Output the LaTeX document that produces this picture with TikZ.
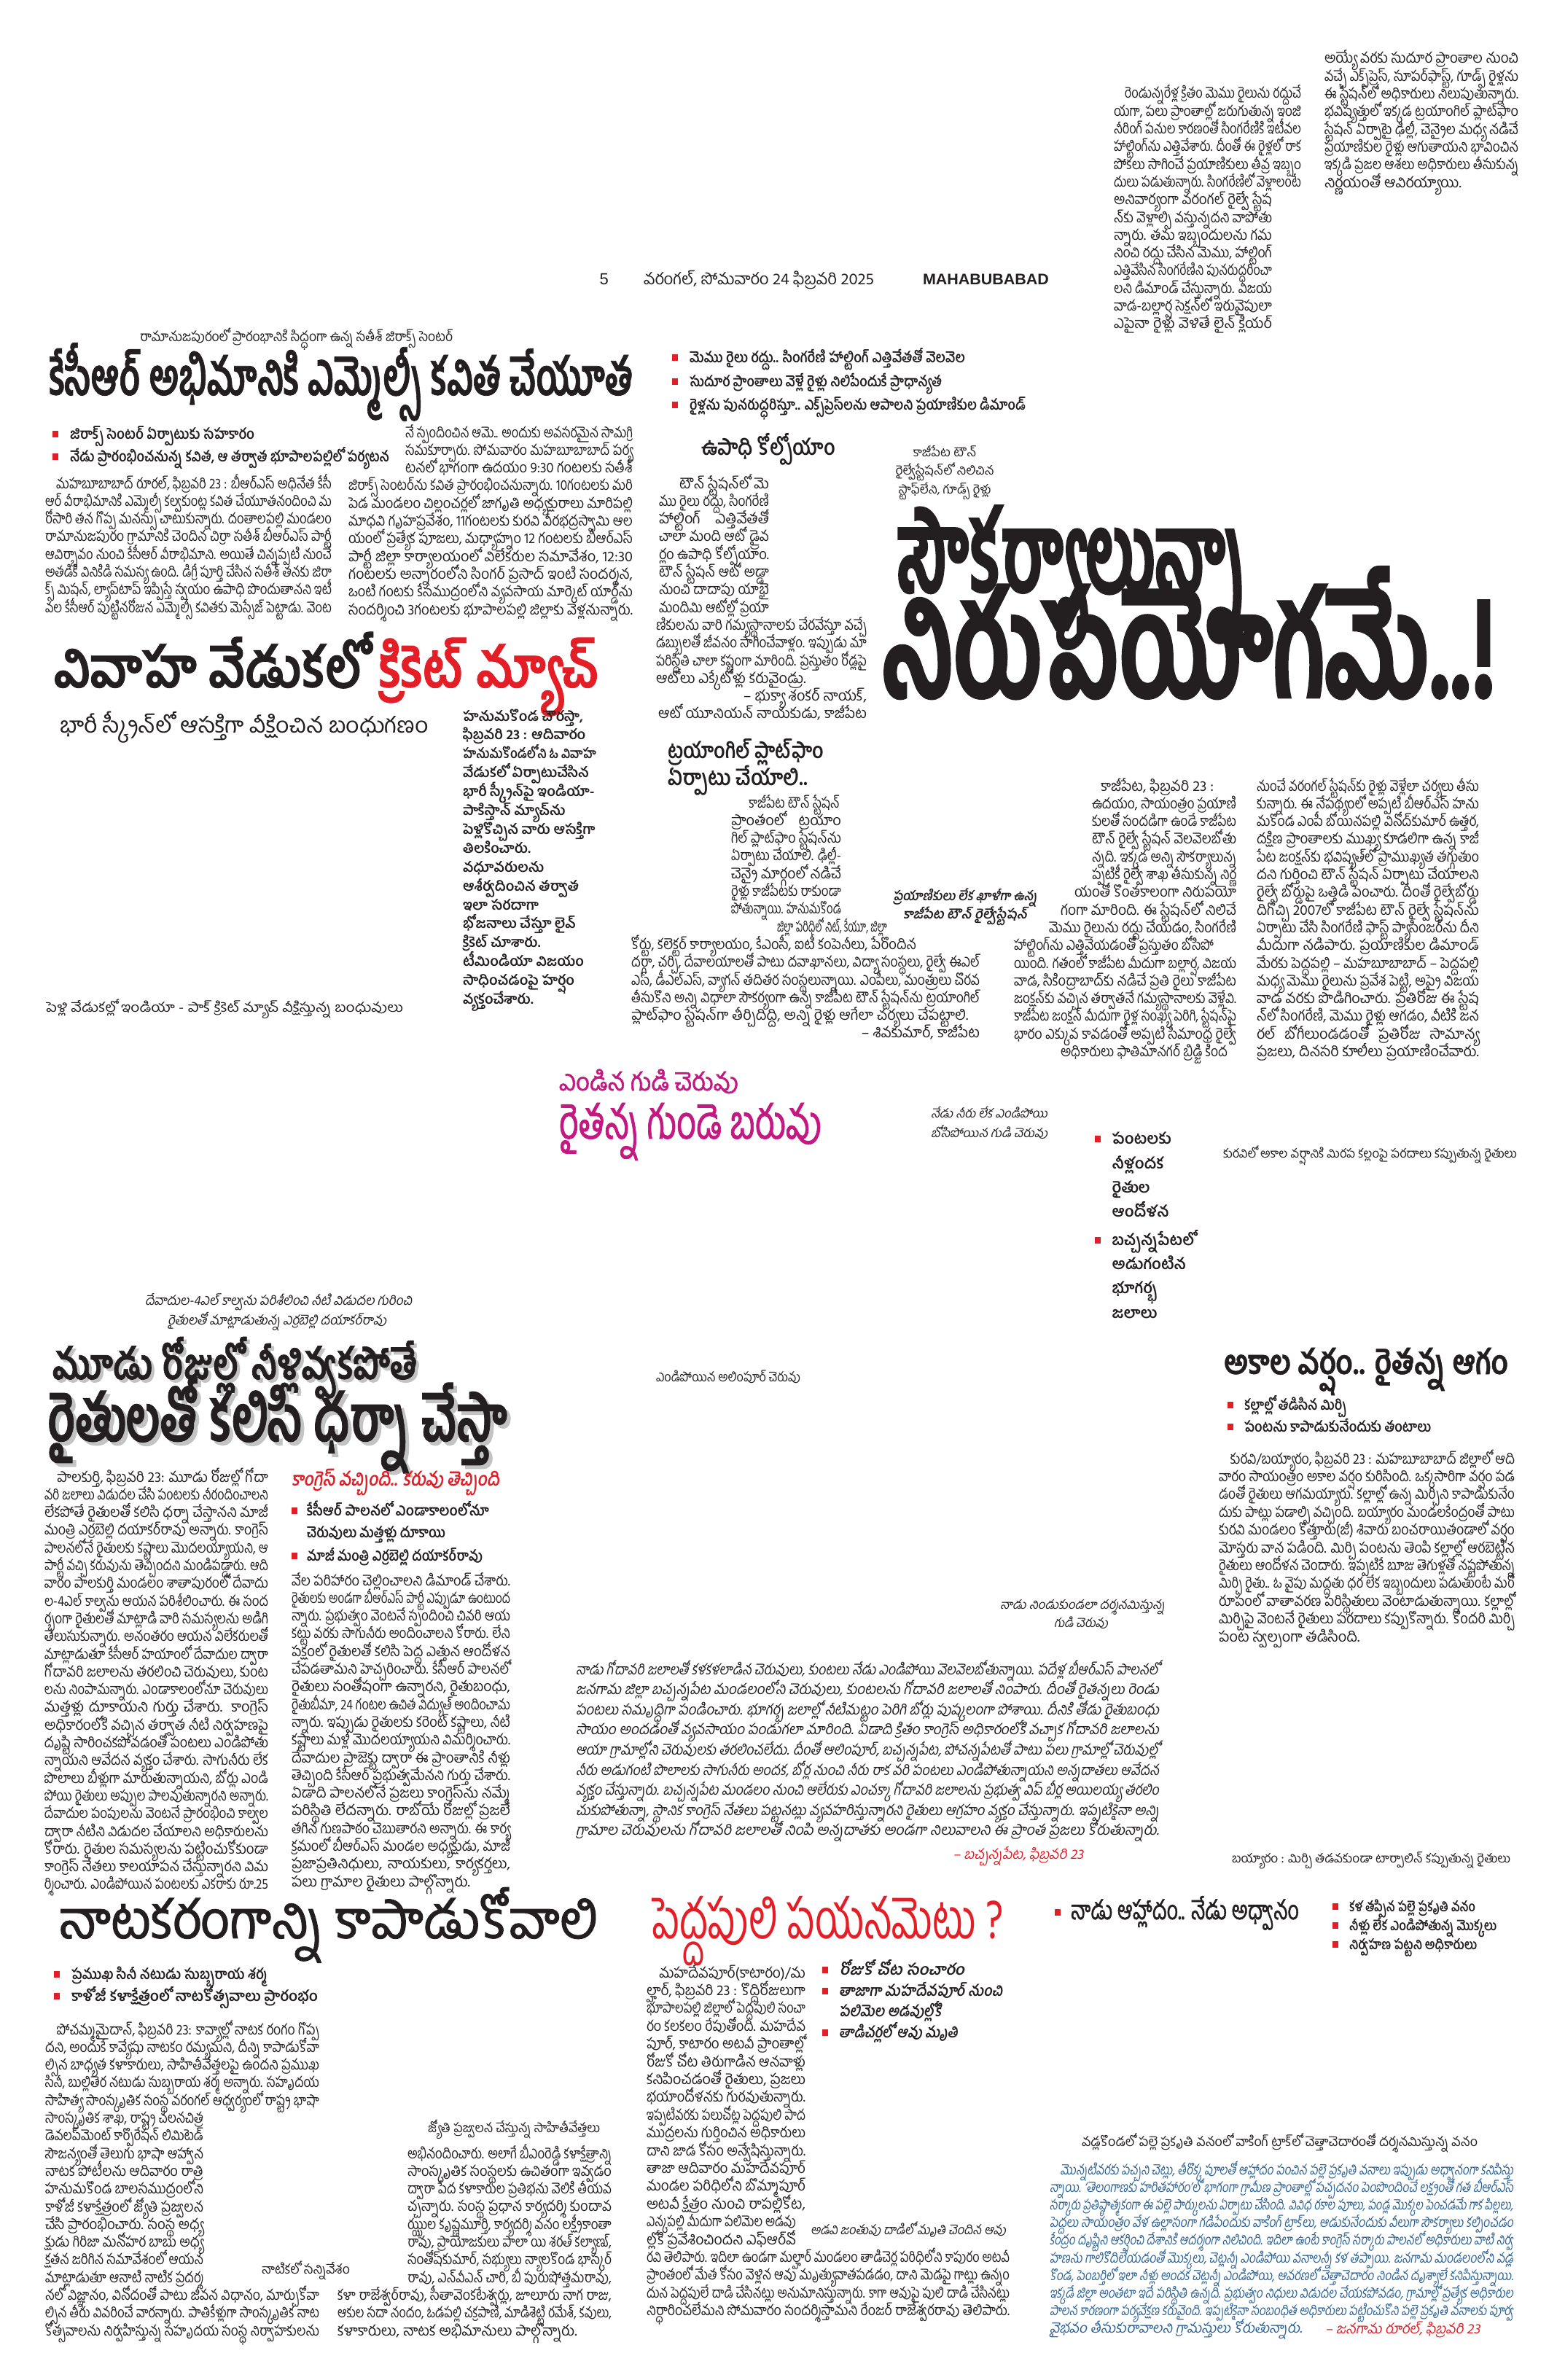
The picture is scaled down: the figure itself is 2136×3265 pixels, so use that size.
\documentclass[tikz,border=0pt]{standalone}
\usepackage{fontspec}
\usepackage{graphicx}
\newfontfamily\te[Script=Telugu]{Hind Guntur}
\newfontfamily\tei[Script=Telugu,FakeSlant=0.2]{Hind Guntur}
\newfontfamily\tem[Script=Telugu,FakeBold=1.5]{Hind Guntur}
\newfontfamily\teh[Script=Telugu,FakeBold=1.2]{Hind Guntur}
\newfontfamily\tebk[Script=Telugu,FakeBold=2.5]{Hind Guntur}
\newfontfamily\tebi[Script=Telugu,FakeSlant=0.2]{Hind Guntur}
\newfontfamily\lat{Liberation Sans}
\definecolor{txt}{RGB}{35,31,32}
\definecolor{nred}{RGB}{228,30,38}
\definecolor{npink}{RGB}{196,24,130}
\definecolor{nblue}{RGB}{44,98,148}
\definecolor{ngray}{RGB}{195,195,195}
\newdimen\pxu \pxu=0.3pt
\newsavebox\lbox
\newcommand\fsz[1]{\fontsize{#1\pxu}{#1\pxu}\selectfont}
\newcommand\fitto[2]{\sbox\lbox{#2}\ifdim\wd\lbox>#1\relax\resizebox{#1}{\height}{\usebox\lbox}\else\hbox to #1{#2}\fi}
\newcommand\fitmax[2]{\sbox\lbox{#2}\ifdim\wd\lbox>#1\relax\resizebox{#1}{\height}{\usebox\lbox}\else\usebox\lbox\fi}
\newcommand\fitx[2]{\resizebox{#1\pxu}{\height}{#2}}
\newcommand\tlj[1]{\hbox{\fitto{\hsize}{#1}}}
\newcommand\tle[1]{\hbox{\fitmax{\hsize}{#1}}}
\newcommand\tlr[1]{\hbox to\hsize{\hfil\fitmax{\hsize}{#1}}}
\newcommand\tlw[3]{\hbox to\hsize{\hskip#1\pxu\fitto{#2\pxu}{#3}\hss}}
\newcommand\tlwe[3]{\hbox to\hsize{\hskip#1\pxu\fitmax{#2\pxu}{#3}\hss}}
\newcommand\tind{\hskip18\pxu}
\newcommand\tcol[6][\te\fsz{20}]{\node[anchor=base west,inner sep=0pt,outer sep=0pt,text=txt] at (#2,#3) {#1\vtop{\hsize=#4\pxu\baselineskip=#5\pxu\lineskiplimit=-\maxdimen\lineskip=0pt\relax #6}};}
\newcommand\hln[5][\te\fsz{20}]{\node[anchor=base west,inner sep=0pt,outer sep=0pt,text=txt] at (#2,#3) {#1\fitx{#4}{#5}};}
\newcommand\bsq[2]{\fill[nred] (#1,#2-5) rectangle ++(8,9);}
\begin{document}
\begin{tikzpicture}[x=0.3pt,y=-0.3pt]
\useasboundingbox (0,0) rectangle (2136,3265);
\fill[white] (0,0) rectangle (2136,3265);

% ---------- header ----------
\node[anchor=base west,inner sep=0pt,text=txt] at (822,390) {\lat\fsz{22}5};
\hln[\te\fsz{22}]{883}{390}{316}{వరంగల్, సోమవారం 24 ఫిబ్రవరి 2025}
\hln[\lat\bfseries\fsz{21}]{1266}{390}{173}{MAHABUBABAD}

% ---------- top right columns ----------
\tcol{1528}{135}{257}{24.3}{%
\tlj{\tind రెండున్నరేళ్ల క్రితం మెము రైలును రద్దుచే}
\tlj{యగా, పలు ప్రాంతాల్లో జరుగుతున్న ఇంజి}
\tlj{నీరింగ్ పనుల కారణంతో సింగరేణికి ఇటీవల}
\tlj{హాల్టింగ్‌ను ఎత్తివేశారు. దీంతో ఈ రైళ్లలో రాక}
\tlj{పోకలు సాగించే ప్రయాణికులు తీవ్ర ఇబ్బం}
\tlj{దులు పడుతున్నారు. సింగరేణిలో వెళ్లాలంటే}
\tlw{0}{217}{అనివార్యంగా వరంగల్ రైల్వే స్టేష}
\tlw{0}{217}{న్‌కు వెళ్లాల్సి వస్తున్నదని వాపోతు}
\tlw{0}{217}{న్నారు. తమ ఇబ్బందులను గమ}
\tlw{0}{217}{నించి రద్దు చేసిన మెము, హాల్టింగ్}
\tlw{0}{217}{ఎత్తివేసిన సింగరేణిని పునరుద్ధరించా}
\tlw{0}{217}{లని డిమాండ్ చేస్తున్నారు. విజయ}
\tlw{0}{217}{వాడ-బల్లార్ష సెక్షన్‌లో ఇరువైపులా}
\tlw{0}{217}{ఎపైనా రైళ్లు వెళితే లైన్ క్లియర్}}
\tcol{1817}{87}{266}{24.3}{%
\tlj{అయ్యే వరకు సుదూర ప్రాంతాల నుంచి}
\tlj{వచ్చే ఎక్స్‌ప్రెస్, సూపర్‌ఫాస్ట్, గూడ్స్ రైళ్లను}
\tlj{ఈ స్టేషన్‌లో అధికారులు నిలుపుతున్నారు.}
\tlj{భవిష్యత్తులో ఇక్కడ ట్రయాంగిల్ ప్లాట్‌ఫాం}
\tlj{స్టేషన్ ఏర్పాటై ఢిల్లీ, చెన్నైల మధ్య నడిచే}
\tlj{ప్రయాణికుల రైళ్లు ఆగుతాయని భావించిన}
\tlj{ఇక్కడి ప్రజల ఆశలు అధికారులు తీసుకున్న}
\tle{నిర్ణయంతో ఆవిరయ్యాయి.}}

% ---------- KCR story ----------
\hln[\te\fsz{19}]{192}{468}{429}{రామానుజపురంలో ప్రారంభానికి సిద్ధంగా ఉన్న సతీశ్ జిరాక్స్ సెంటర్}
\hln[\teh\bfseries\fsz{70}]{68}{542}{800}{కేసీఆర్ అభిమానికి ఎమ్మెల్సీ కవిత చేయూత}
\bsq{72}{596}
\hln[\te\bfseries\fsz{20}]{96}{602}{253}{జిరాక్స్ సెంటర్ ఏర్పాటుకు సహకారం}
\bsq{72}{627}
\hln[\te\bfseries\fsz{20}]{96}{633}{438}{నేడు ప్రారంభించనున్న కవిత, ఆ తర్వాత భూపాలపల్లిలో పర్యటన}
\tcol{62}{670}{393}{24.3}{%
\tlj{\tind మహబూబాబాద్ రూరల్, ఫిబ్రవరి 23 : బీఆర్ఎస్ అధినేత కేసీ}
\tlj{ఆర్ వీరాభిమానికి ఎమ్మెల్సీ కల్వకుంట్ల కవిత చేయూతనందించి మ}
\tlj{రోసారి తన గొప్ప మనస్సు చాటుకున్నారు. దంతాలపల్లి మండలం}
\tlj{రామానుజపురం గ్రామానికి చెందిన చిర్రా సతీశ్ బీఆర్ఎస్ పార్టీ}
\tlj{ఆవిర్భావం నుంచి కేసీఆర్ వీరాభిమాని. అయితే చిన్నప్పటి నుంచే}
\tlj{అతడికి వినికిడి సమస్య ఉంది. డిగ్రీ పూర్తి చేసిన సతీశ్ తనకు జిరా}
\tlj{క్స్ మిషన్, ల్యాప్‌టాప్ ఇప్పిస్తే స్వయం ఉపాధి పొందుతానని ఇటీ}
\tlj{వల కేసీఆర్ పుట్టినరోజున ఎమ్మెల్సీ కవితకు మెస్సేజ్ పెట్టాడు. వెంట}}
\tcol{478}{600}{390}{24.3}{%
\tlw{78}{312}{నే స్పందించిన ఆమె.. అందుకు అవసరమైన సామగ్రి}
\tlw{78}{312}{సమకూర్చారు. సోమవారం మహబూబాబాద్ పర్య}
\tlw{78}{312}{టనలో భాగంగా ఉదయం 9:30 గంటలకు సతీశ్}
\tlj{జిరాక్స్ సెంటర్‌ను కవిత ప్రారంభించనున్నారు. 10గంటలకు మరి}
\tlj{పెడ మండలం చిల్లంచర్లలో జాగృతి అధ్యక్షురాలు మారిపల్లి}
\tlj{మాధవి గృహప్రవేశం, 11గంటలకు కురవి వీరభద్రస్వామి ఆల}
\tlj{యంలో ప్రత్యేక పూజలు, మధ్యాహ్నం 12 గంటలకు బీఆర్ఎస్}
\tlj{పార్టీ జిల్లా కార్యాలయంలో విలేకరుల సమావేశం, 12:30}
\tlj{గంటలకు అన్నారంలోని సింగర్ ప్రసాద్ ఇంటి సందర్శన,}
\tlj{ఒంటి గంటకు కేసముద్రంలోని వ్యవసాయ మార్కెట్ యార్డ్‌ను}
\tle{సందర్శించి 3గంటలకు భూపాలపల్లి జిల్లాకు వెళ్లనున్నారు.}}

% ---------- Kazipet story ----------
\bsq{922}{491}
\hln[\te\bfseries\fsz{20}]{946}{497}{378}{మెము రైలు రద్దు.. సింగరేణి హాల్టింగ్ ఎత్తివేతతో వెలవెల}
\bsq{922}{524}
\hln[\te\bfseries\fsz{20}]{946}{530}{346}{సుదూర ప్రాంతాలు వెళ్లే రైళ్లు నిలిపేందుకే ప్రాధాన్యత}
\bsq{922}{556}
\hln[\te\bfseries\fsz{20}]{946}{562}{461}{రైళ్లను పునరుద్ధరిస్తూ.. ఎక్స్‌ప్రెస్‌లను ఆపాలని ప్రయాణికుల డిమాండ్}
\hln[\te\bfseries\fsz{30}]{962}{624}{184}{ఉపాధి కోల్పోయాం}
\node[anchor=base,inner sep=0pt,text=txt] at (1296,626) {\te\fsz{17}\fitx{87}{కాజీపేట టౌన్}};
\node[anchor=base,inner sep=0pt,text=txt] at (1296,651) {\te\fsz{17}\fitx{135}{రైల్వేస్టేషన్‌లో నిలిచిన}};
\node[anchor=base,inner sep=0pt,text=txt] at (1296,677) {\te\fsz{17}\fitx{127}{స్టాఫ్‌లేని, గూడ్స్ రైళ్లు}};
\tcol{900}{670}{289}{24.3}{%
\tlw{32}{123}{టౌన్ స్టేషన్‌లో మె}
\tlw{4}{151}{ము రైలు రద్దు, సింగరేణి}
\tlw{4}{151}{హాల్టింగ్ ఎత్తివేతతో}
\tlw{4}{151}{చాలా మంది ఆటో డ్రైవ}
\tlw{4}{151}{ర్లం ఉపాధి కోల్పోయాం.}
\tlw{4}{151}{టౌన్ స్టేషన్ ఆటో అడ్డా}
\tlw{4}{151}{నుంచి దాదాపు యాభై}
\tlw{4}{151}{మందిమి ఆటోల్లో ప్రయా}
\tlj{ణికులను వారి గమ్యస్థానాలకు చేరవేస్తూ వచ్చే}
\tlj{డబ్బులతో జీవనం సాగించేవాళ్లం. ఇప్పుడు మా}
\tlj{పరిస్థితి చాలా కష్టంగా మారింది. ప్రస్తుతం రోడ్లపై}
\tle{ఆటోలు ఎక్కేటోళ్లు కరువైండ్రు.}
\tlr{– భుక్యా శంకర్ నాయక్,}
\tlr{ఆటో యూనియన్ నాయకుడు, కాజీపేట}}
\hln[\tebk\bfseries\fsz{150}]{1233}{812}{479}{సౌకర్యాలున్నా}
\hln[\tebk\bfseries\fsz{195}]{1209}{956}{844}{నిరుపయోగమే..!}
\hln[\te\bfseries\fsz{30}]{916}{1040}{214}{ట్రయాంగిల్ ప్లాట్‌ఫాం}
\hln[\te\bfseries\fsz{30}]{916}{1077}{192}{ఏర్పాటు చేయాలి..}
\tcol{866}{1108}{478}{24.3}{%
\tlw{161}{125}{కాజీపేట టౌన్ స్టేషన్}
\tlw{137}{151}{ప్రాంతంలో ట్రయాం}
\tlw{137}{151}{గిల్ ప్లాట్‌ఫాం స్టేషన్‌ను}
\tlw{137}{151}{ఏర్పాటు చేయాలి. ఢిల్లీ-}
\tlw{137}{151}{చెన్నై మార్గంలో నడిచే}
\tlw{137}{151}{రైళ్లు కాజీపేటకు రాకుండా}
\tlw{137}{151}{పోతున్నాయి. హనుమకొండ}
\tlw{200}{151}{జిల్లా పరిధిలో నిట్, కేయూ, జిల్లా}
\tlw{0}{391}{కోర్టు, కలెక్టర్ కార్యాలయం, కేఎంసీ, ఐటీ కంపెనీలు, పేరొందిన}
\tlj{దర్గా, చర్చి, దేవాలయాలతో పాటు దవాఖానలు, విద్యా సంస్థలు, రైల్వే ఈఎల్}
\tlj{ఎస్, డీఎల్ఎస్, వ్యాగన్ తదితర సంస్థలున్నాయి. ఎంపీలు, మంత్రులు చొరవ}
\tlj{తీసుకొని అన్ని విధాలా సౌకర్యంగా ఉన్న కాజీపేట టౌన్ స్టేషన్‌ను ట్రయాంగిల్}
\tle{ప్లాట్‌ఫాం స్టేషన్‌గా తీర్చిదిద్ది, అన్ని రైళ్లు ఆగేలా చర్యలు చేపట్టాలి.}
\tlr{– శివకుమార్, కాజీపేట}}
\node[anchor=base,inner sep=0pt,text=txt] at (1324,1235) {\tebi\bfseries\fsz{18}\fitx{198}{ప్రయాణికులు లేక ఖాళీగా ఉన్న}};
\node[anchor=base,inner sep=0pt,text=txt] at (1324,1260) {\tebi\bfseries\fsz{18}\fitx{170}{కాజీపేట టౌన్ రైల్వేస్టేషన్}};
\tcol{1391}{1085}{305}{24.3}{%
\tlwe{119}{186}{కాజీపేట, ఫిబ్రవరి 23 :}
\tlw{107}{198}{ఉదయం, సాయంత్రం ప్రయాణి}
\tlw{107}{198}{కులతో సందడిగా ఉండే కాజీపేట}
\tlw{107}{198}{టౌన్ రైల్వే స్టేషన్ వెలవెలబోతు}
\tlw{107}{198}{న్నది. ఇక్కడ అన్ని సౌకర్యాలున్న}
\tlw{107}{198}{ప్పటికీ రైల్వే శాఖ తీసుకున్న నిర్ణ}
\tlw{83}{222}{యంతో కొంతకాలంగా నిరుపయో}
\tlw{64}{241}{గంగా మారింది. ఈ స్టేషన్‌లో నిలిచే}
\tlw{48}{257}{మెము రైలును రద్దు చేయడం, సింగరేణి}
\tlw{0}{274}{హాల్టింగ్‌ను ఎత్తివేయడంతో ప్రస్తుతం బోసిపో}
\tlj{యింది. గతంలో కాజీపేట మీదుగా బల్లార్ష, విజయ}
\tlj{వాడ, సికింద్రాబాద్‌కు నడిచే ప్రతి రైలు కాజీపేట}
\tlj{జంక్షన్‌కు వచ్చిన తర్వాతనే గమ్యస్థానాలకు వెళ్లేవి.}
\tlj{కాజీపేట జంక్షన్ మీదుగా రైళ్ల సంఖ్య పెరిగి, స్టేషన్‌పై}
\tlj{భారం ఎక్కువ కావడంతో అప్పటి సీమాంధ్ర రైల్వే}
\tlw{64}{229}{అధికారులు ఫాతిమానగర్ బ్రిడ్జి కింద}}
\tcol{1724}{1085}{305}{24.3}{%
\tlj{నుంచే వరంగల్ స్టేషన్‌కు రైళ్లు వెళ్లేలా చర్యలు తీసు}
\tlj{కున్నారు. ఈ నేపథ్యంలో అప్పటి బీఆర్ఎస్ హను}
\tlj{మకొండ ఎంపీ బోయినపల్లి వినోద్‌కుమార్ ఉత్తర,}
\tlj{దక్షిణ ప్రాంతాలకు ముఖ్య కూడలిగా ఉన్న కాజీ}
\tlj{పేట జంక్షన్‌కు భవిష్యత్‌లో ప్రాముఖ్యత తగ్గుతుం}
\tlj{దని గుర్తించి టౌన్ స్టేషన్ ఏర్పాటు చేయాలని}
\tlj{రైల్వే బోర్డుపై ఒత్తిడి పెంచారు. దీంతో రైల్వేబోర్డు}
\tlj{దిగొచ్చి 2007లో కాజీపేట టౌన్ రైల్వే స్టేషన్‌ను}
\tlj{ఏర్పాటు చేసి సింగరేణి ఫాస్ట్ ప్యాసింజర్‌ను దీని}
\tlj{మీదుగా నడిపారు. ప్రయాణికుల డిమాండ్}
\tlj{మేరకు పెద్దపల్లి – మహబూబాబాద్ – పెద్దపల్లి}
\tlj{మధ్య మెము రైలును ప్రవేశ పెట్టి, అప్పై విజయ}
\tlj{వాడ వరకు పొడిగించారు. ప్రతిరోజు ఈ స్టేష}
\tlj{న్‌లో సింగరేణి, మెము రైళ్లు ఆగడం, వీటికి జన}
\tlj{రల్ బోగీలుండడంతో ప్రతిరోజు సామాన్య}
\tle{ప్రజలు, దినసరి కూలీలు ప్రయాణించేవారు.}}

% ---------- cricket ----------
\hln[\teh\bfseries\fsz{76}]{74}{943}{747}{వివాహ వేడుకలో \textcolor{nred}{క్రికెట్ మ్యాచ్}}
\hln[\te\fsz{30}]{82}{1005}{506}{భారీ స్క్రీన్‌లో ఆసక్తిగా వీక్షించిన బంధుగణం}
\tcol[\te\bfseries\fsz{19}]{635}{989}{183}{25.9}{%
\tle{హనుమకొండ చౌరస్తా,}
\tle{ఫిబ్రవరి 23 : ఆదివారం}
\tle{హనుమకొండలోని ఓ వివాహ}
\tle{వేడుకలో ఏర్పాటుచేసిన}
\tle{భారీ స్క్రీన్‌పై ఇండియా-}
\tle{పాకిస్తాన్ మ్యాచ్‌ను}
\tle{పెళ్లికొచ్చిన వారు ఆసక్తిగా}
\tle{తిలకించారు.}
\tle{వధూవరులను}
\tle{ఆశీర్వదించిన తర్వాత}
\tle{ఇలా సరదాగా}
\tle{భోజనాలు చేస్తూ లైవ్}
\tle{క్రికెట్ చూశారు.}
\tle{టీమిండియా విజయం}
\tle{సాధించడంపై హర్షం}
\tle{వ్యక్తంచేశారు.}}
\hln[\te\fsz{18}]{63}{1388}{490}{పెళ్లి వేడుకల్లో ఇండియా - పాక్ క్రికెట్ మ్యాచ్ వీక్షిస్తున్న బంధువులు}

% ---------- pink story ----------
\hln[\tem\fsz{34}\color{npink}]{767}{1496}{246}{ఎండిన గుడి చెరువు}
\hln[\tem\fsz{64}\color{npink}]{767}{1562}{360}{రైతన్న గుండె బరువు}
\hln[\tei\fsz{17}]{1277}{1533}{160}{నేడు నీరు లేక ఎండిపోయి}
\hln[\tei\fsz{17}]{1277}{1560}{160}{బోసిపోయిన గుడి చెరువు}
\bsq{1502}{1563}
\node[anchor=base west,inner sep=0pt,text=txt] at (1525,1569) {\te\bfseries\fsz{21}పంటలకు};
\node[anchor=base west,inner sep=0pt,text=txt] at (1525,1603) {\te\bfseries\fsz{21}నీళ్లందక};
\node[anchor=base west,inner sep=0pt,text=txt] at (1525,1636) {\te\bfseries\fsz{21}రైతుల};
\node[anchor=base west,inner sep=0pt,text=txt] at (1525,1669) {\te\bfseries\fsz{21}ఆందోళన};
\bsq{1502}{1702}
\node[anchor=base west,inner sep=0pt,text=txt] at (1525,1708) {\te\bfseries\fsz{21}బచ్చన్నపేటలో};
\node[anchor=base west,inner sep=0pt,text=txt] at (1525,1741) {\te\bfseries\fsz{21}అడుగంటిన};
\node[anchor=base west,inner sep=0pt,text=txt] at (1525,1774) {\te\bfseries\fsz{21}భూగర్భ};
\node[anchor=base west,inner sep=0pt,text=txt] at (1525,1808) {\te\bfseries\fsz{21}జలాలు};
\hln[\te\fsz{17}]{1678}{1588}{403}{కురవిలో అకాల వర్షానికి మిరప కల్లంపై పరదాలు కప్పుతున్న రైతులు}

% ---------- Palakurthi story ----------
\hln[\tei\fsz{18}]{199}{1790}{366}{దేవాదుల-4ఎల్ కాల్వను పరిశీలించి నీటి విడుదల గురించి}
\hln[\tei\fsz{18}]{230}{1817}{300}{రైతులతో మాట్లాడుతున్న ఎర్రబెల్లి దయాకర్‌రావు}
\hln[\teh\bfseries\fsz{58}\color{ngray}]{76}{1896}{500}{మూడు రోజుల్లో నీళ్లివ్వకపోతే}
\hln[\teh\bfseries\fsz{58}]{72}{1892}{500}{మూడు రోజుల్లో నీళ్లివ్వకపోతే}
\hln[\teh\bfseries\fsz{88}\color{ngray}]{70}{1982}{631}{రైతులతో కలిసి ధర్నా చేస్తా}
\hln[\teh\bfseries\fsz{88}]{65}{1977}{631}{రైతులతో కలిసి ధర్నా చేస్తా}
\hln[\te\fsz{18}]{900}{1895}{198}{ఎండిపోయిన అలింపూర్ చెరువు}
\hln[\tebi\bfseries\fsz{26}\color{nred}]{400}{2038}{285}{కాంగ్రెస్ వచ్చింది.. కరువు తెచ్చింది}
\bsq{400}{2073}
\hln[\te\bfseries\fsz{20}]{421}{2079}{250}{కేసీఆర్ పాలనలో ఎండాకాలంలోనూ}
\hln[\te\bfseries\fsz{20}]{421}{2109}{190}{చెరువులు మత్తళ్లు దూకాయి}
\bsq{400}{2135}
\hln[\te\bfseries\fsz{20}]{421}{2141}{241}{మాజీ మంత్రి ఎర్రబెల్లి దయాకర్‌రావు}
\tcol{61}{2033}{307}{24.3}{%
\tlj{\tind పాలకుర్తి, ఫిబ్రవరి 23: మూడు రోజుల్లో గోదా}
\tlj{వరి జలాలు విడుదల చేసి పంటలకు నీరందించాలని}
\tlj{లేకపోతే రైతులతో కలిసి ధర్నా చేస్తానని మాజీ}
\tlj{మంత్రి ఎర్రబెల్లి దయాకర్‌రావు అన్నారు. కాంగ్రెస్}
\tlj{పాలనలోనే రైతులకు కష్టాలు మొదలయ్యాయని, ఆ}
\tlj{పార్టీ వచ్చి కరువును తెచ్చిందని మండిపడ్డారు. ఆది}
\tlj{వారం పాలకుర్తి మండలం శాతాపురంలో దేవాదు}
\tlj{ల-4ఎల్ కాల్వను ఆయన పరిశీలించారు. ఈ సంద}
\tlj{ర్భంగా రైతులతో మాట్లాడి వారి సమస్యలను అడిగి}
\tlj{తెలుసుకున్నారు. అనంతరం ఆయన విలేకరులతో}
\tlj{మాట్లాడుతూ కేసీఆర్ హయాంలో దేవాదుల ద్వారా}
\tlj{గోదావరి జలాలను తరలించి చెరువులు, కుంట}
\tlj{లను నింపామన్నారు. ఎండాకాలంలోనూ చెరువులు}
\tlj{మత్తళ్లు దూకాయని గుర్తు చేశారు. కాంగ్రెస్}
\tlj{అధికారంలోకి వచ్చిన తర్వాత నీటి నిర్వహణపై}
\tlj{దృష్టి సారించకపోవడంతో పంటలు ఎండిపోతు}
\tlj{న్నాయని ఆవేదన వ్యక్తం చేశారు. సాగునీరు లేక}
\tlj{పొలాలు బీళ్లుగా మారుతున్నాయని, బోర్లు ఎండి}
\tlj{పోయి రైతులు అప్పుల పాలవుతున్నారని అన్నారు.}
\tlj{దేవాదుల పంపులను వెంటనే ప్రారంభించి కాల్వల}
\tlj{ద్వారా నీటిని విడుదల చేయాలని అధికారులను}
\tlj{కోరారు. రైతుల సమస్యలను పట్టించుకోకుండా}
\tlj{కాంగ్రెస్ నేతలు కాలయాపన చేస్తున్నారని విమ}
\tlj{ర్శించారు. ఎండిపోయిన పంటలకు ఎకరాకు రూ.25}}
\tcol{400}{2175}{300}{24.3}{%
\tlj{వేల పరిహారం చెల్లించాలని డిమాండ్ చేశారు.}
\tlj{రైతులకు అండగా బీఆర్ఎస్ పార్టీ ఎప్పుడూ ఉంటుంద}
\tlj{న్నారు. ప్రభుత్వం వెంటనే స్పందించి చివరి ఆయ}
\tlj{కట్టు వరకు సాగునీరు అందించాలని కోరారు. లేని}
\tlj{పక్షంలో రైతులతో కలిసి పెద్ద ఎత్తున ఆందోళన}
\tlj{చేపడతామని హెచ్చరించారు. కేసీఆర్ పాలనలో}
\tlj{రైతులు సంతోషంగా ఉన్నారని, రైతుబంధు,}
\tlj{రైతుబీమా, 24 గంటల ఉచిత విద్యుత్ అందించామ}
\tlj{న్నారు. ఇప్పుడు రైతులకు కరెంట్ కష్టాలు, నీటి}
\tlj{కష్టాలు మళ్లీ మొదలయ్యాయని విమర్శించారు.}
\tlj{దేవాదుల ప్రాజెక్టు ద్వారా ఈ ప్రాంతానికి నీళ్లు}
\tlj{తెచ్చింది కేసీఆర్ ప్రభుత్వమేనని గుర్తు చేశారు.}
\tlj{ఏడాది పాలనలోనే ప్రజలు కాంగ్రెస్‌ను నమ్మే}
\tlj{పరిస్థితి లేదన్నారు. రాబోయే రోజుల్లో ప్రజలే}
\tlj{తగిన గుణపాఠం చెబుతారని అన్నారు. ఈ కార్య}
\tlj{క్రమంలో బీఆర్ఎస్ మండల అధ్యక్షుడు, మాజీ}
\tlj{ప్రజాప్రతినిధులు, నాయకులు, కార్యకర్తలు,}
\tle{పలు గ్రామాల రైతులు పాల్గొన్నారు.}}

% ---------- center italic story ----------
\hln[\tei\fsz{17}]{1372}{2207}{226}{నాడు నిండుకుండలా దర్శనమిస్తున్న}
\hln[\tei\fsz{17}]{1446}{2232}{74}{గుడి చెరువు}
\tcol[\tei\fsz{20}]{790}{2297}{800}{27.6}{%
\tlj{నాడు గోదావరి జలాలతో కళకళలాడిన చెరువులు, కుంటలు నేడు ఎండిపోయి వెలవెలబోతున్నాయి. పదేళ్ల బీఆర్ఎస్ పాలనలో}
\tlj{జనగామ జిల్లా బచ్చన్నపేట మండలంలోని చెరువులు, కుంటలను గోదావరి జలాలతో నింపారు. దీంతో రైతన్నలు రెండు}
\tlj{పంటలు సమృద్ధిగా పండించారు. భూగర్భ జలాల్లో నీటిమట్టం పెరిగి బోర్లు పుష్కలంగా పోశాయి. దీనికి తోడు రైతుబంధు}
\tlj{సాయం అందడంతో వ్యవసాయం పండుగలా మారింది. ఏడాది క్రితం కాంగ్రెస్ అధికారంలోకి వచ్చాక గోదావరి జలాలను}
\tlj{ఆయా గ్రామాల్లోని చెరువులకు తరలించలేదు. దీంతో ఆలింపూర్, బచ్చన్నపేట, పోచన్నపేటతో పాటు పలు గ్రామాల్లో చెరువుల్లో}
\tlj{నీరు అడుగంటి పొలాలకు సాగునీరు అందక, బోర్ల నుంచి నీరు రాక వరి పంటలు ఎండిపోతున్నాయని అన్నదాతలు ఆవేదన}
\tlj{వ్యక్తం చేస్తున్నారు. బచ్చన్నపేట మండలం నుంచి ఆలేరుకు ఎంచక్కా గోదావరి జలాలను ప్రభుత్వ విప్ బీర్ల అయిలయ్య తరలిం}
\tlj{చుకుపోతున్నా, స్థానిక కాంగ్రెస్ నేతలు పట్టనట్లు వ్యవహరిస్తున్నారని రైతులు ఆగ్రహం వ్యక్తం చేస్తున్నారు. ఇప్పటికైనా అన్ని}
\tle{గ్రామాల చెరువులను గోదావరి జలాలతో నింపి అన్నదాతకు అండగా నిలువాలని ఈ ప్రాంత ప్రజలు కోరుతున్నారు.}}
\node[anchor=base east,inner sep=0pt] at (1487,2550) {\tei\fsz{19}\color{nred}– బచ్చన్నపేట, ఫిబ్రవరి 23};

% ---------- akala varsham ----------
\hln[\teh\bfseries\fsz{46}]{1679}{1885}{390}{అకాల వర్షం.. రైతన్న ఆగం}
\bsq{1684}{1928}
\hln[\te\bfseries\fsz{20}]{1707}{1934}{140}{కల్లాల్లో తడిసిన మిర్చి}
\bsq{1684}{1958}
\hln[\te\bfseries\fsz{20}]{1707}{1964}{256}{పంటను కాపాడుకునేందుకు తంటాలు}
\tcol{1672}{2008}{406}{24.4}{%
\tlj{\tind కురవి/బయ్యారం, ఫిబ్రవరి 23 : మహబూబాబాద్ జిల్లాలో ఆది}
\tlj{వారం సాయంత్రం అకాల వర్షం కురిసింది. ఒక్కసారిగా వర్షం పడ}
\tlj{డంతో రైతులు ఆగమయ్యారు. కల్లాల్లో ఉన్న మిర్చిని కాపాడుకునేం}
\tlj{దుకు పాట్లు పడాల్సి వచ్చింది. బయ్యారం మండలకేంద్రంతో పాటు}
\tlj{కురవి మండలం కొత్తూరు(జీ) శివారు బంచరాయితండాలో వర్షం}
\tlj{మోస్తరు వాన పడింది. మిర్చి పంటను తెంపి కల్లాల్లో ఆరబెట్టిన}
\tlj{రైతులు ఆందోళన చెందారు. ఇప్పటికే బూజు తెగుళ్లతో నష్టపోతున్న}
\tlj{మిర్చి రైతు.. ఓ వైపు మద్దతు ధర లేక ఇబ్బందులు పడుతుంటే మరో}
\tlj{రూపంలో వాతావరణ పరిస్థితులు వెంటాడుతున్నాయి. కల్లాల్లో}
\tlj{మిర్చిపై వెంటనే రైతులు పరదాలు కప్పుకొన్నారు. కొందరి మిర్చి}
\tle{పంట స్వల్పంగా తడిసింది.}}
\hln[\te\fsz{17}]{1690}{2555}{382}{బయ్యారం : మిర్చి తడవకుండా టార్పాలిన్ కప్పుతున్న రైతులు}

% ---------- natakam ----------
\hln[\tem\fsz{72}]{81}{2659}{739}{నాటకరంగాన్ని కాపాడుకోవాలి}
\bsq{74}{2709}
\hln[\te\bfseries\fsz{20}]{98}{2715}{269}{ప్రముఖ సినీ నటుడు సుబ్బరాయ శర్మ}
\bsq{74}{2739}
\hln[\te\bfseries\fsz{20}]{98}{2745}{338}{కాళోజీ కళాక్షేత్రంలో నాటకోత్సవాలు ప్రారంభం}
\tcol{62}{2791}{376}{24.3}{%
\tlj{\tind పోచమ్మమైదాన్, ఫిబ్రవరి 23: కావ్యాల్లో నాటక రంగం గొప్ప}
\tlj{దని, అందుకే కావ్యేషు నాటకం రమ్యమని, దీన్ని కాపాడుకోవా}
\tlj{ల్సిన బాధ్యత కళాకారులు, సాహితీవేత్తలపై ఉందని ప్రముఖ}
\tlj{సినీ, బుల్లితెర నటుడు సుబ్బరాయ శర్మ అన్నారు. సహృదయ}
\tlj{సాహిత్య సాంస్కృతిక సంస్థ వరంగల్ ఆధ్వర్యంలో రాష్ట్ర భాషా}
\tlw{0}{217}{సాంస్కృతిక శాఖ, రాష్ట్ర చలనచిత్ర}
\tlw{0}{217}{డెవలప్‌మెంట్ కార్పొరేషన్ లిమిటెడ్}
\tlw{0}{217}{సౌజన్యంతో తెలుగు భాషా ఆహ్వాన}
\tlw{0}{217}{నాటక పోటీలను ఆదివారం రాత్రి}
\tlw{0}{217}{హనుమకొండ బాలసముద్రంలోని}
\tlw{0}{217}{కాళోజీ కళాక్షేత్రంలో జ్యోతి ప్రజ్వలన}
\tlw{0}{217}{చేసి ప్రారంభించారు. సంస్థ అధ్య}
\tlw{0}{217}{క్షుడు గిరిజా మనోహర బాబు అధ్య}
\tlw{0}{217}{క్షతన జరిగిన సమావేశంలో ఆయన}
\tlw{0}{217}{మాట్లాడుతూ ఆనాటి నాటిక ప్రదర్శ}
\tlj{నలో విజ్ఞానం, వినోదంతో పాటు జీవన విధానం, మార్చుకోవా}
\tlj{ల్సిన తీరు వివరించే వారన్నారు. పాతికేళ్లుగా సాంస్కృతిక నాట}
\tlj{కోత్సవాలను నిర్వహిస్తున్న సహృదయ సంస్థ నిర్వాహకులను}}
\hln[\te\fsz{18}]{587}{2925}{236}{జ్యోతి ప్రజ్వలన చేస్తున్న సాహితీవేత్తలు}
\tcol{463}{2961}{376}{24.3}{%
\tlw{96}{280}{అభినందించారు. అలాగే బీఎంరెడ్డి కళాక్షేత్రాన్ని}
\tlw{96}{280}{సాంస్కృతిక సంస్థలకు ఉచితంగా ఇవ్వడం}
\tlw{96}{280}{ద్వారా పేద కళాకారుల ప్రతిభను వెలికి తీయవ}
\tlw{96}{280}{చ్చన్నారు. సంస్థ ప్రధాన కార్యదర్శి కుందావ}
\tlw{96}{280}{ఝ్ఝుల కృష్ణమూర్తి, కార్యదర్శి వనం లక్ష్మీకాంతా}
\tlw{96}{280}{రావు, ప్రాయోజకులు పాలా యి శరత్ కల్యాణ్,}
\tlw{96}{280}{సంతోష్‌కుమార్, సభ్యులు న్యాలకొండ భాస్కర్}
\tlw{96}{280}{రావు, ఎన్‌వీఎన్ చారి, బీ పురుషోత్తమరావు,}
\tlj{కళా రాజేశ్వర్‌రావు, సీతావెంకటేశ్వర్లు, జూలూరు నాగ రాజు,}
\tlj{ఆకుల సదా నందం, ఓడపల్లి చక్రపాణి, మాడిశెట్టి రమేశ్, కవులు,}
\tle{కళాకారులు, నాటక అభిమానులు పాల్గొన్నారు.}}
\hln[\te\fsz{18}]{359}{3119}{121}{నాటికలో సన్నివేశం}

% ---------- peddapuli ----------
\hln[\te\fsz{76}\color{nred}]{894}{2659}{482}{పెద్దపులి పయనమెటు ?}
\bsq{1128}{2703}
\hln[\tebi\bfseries\fsz{21}]{1151}{2709}{172}{రోజుకో చోట సంచారం}
\bsq{1128}{2732}
\hln[\tebi\bfseries\fsz{21}]{1151}{2738}{224}{తాజాగా మహదేవపూర్ నుంచి}
\hln[\tebi\bfseries\fsz{21}]{1151}{2766}{140}{పలిమెల అడవుల్లోకి}
\bsq{1128}{2789}
\hln[\tebi\bfseries\fsz{21}]{1151}{2795}{163}{తాడిచర్లలో ఆవు మృతి}
\tcol{887}{2713}{498}{24.4}{%
\tlw{0}{218}{\tind మహదేవపూర్(కాటారం)/మ}
\tlw{0}{218}{ల్హార్, ఫిబ్రవరి 23 : కొద్దిరోజులుగా}
\tlw{0}{218}{భూపాలపల్లి జిల్లాలో పెద్దపులి సంచా}
\tlw{0}{218}{రం కలకలం రేపుతోంది. మహదేవ}
\tlw{0}{218}{పూర్, కాటారం అటవీ ప్రాంతాల్లో}
\tlw{0}{218}{రోజుకో చోట తిరుగాడిన ఆనవాళ్లు}
\tlw{0}{218}{కనిపించడంతో రైతులు, ప్రజలు}
\tlw{0}{218}{భయాందోళనకు గురవుతున్నారు.}
\tlw{0}{218}{ఇప్పటివరకు పలుచోట్ల పెద్దపులి పాద}
\tlw{0}{218}{ముద్రలను గుర్తించిన అధికారులు}
\tlw{0}{218}{దాని జాడ కోసం అన్వేషిస్తున్నారు.}
\tlw{0}{218}{తాజా ఆదివారం మహదేవపూర్}
\tlw{0}{218}{మండల పరిధిలోని బొమ్మాపూర్}
\tlw{0}{218}{అటవీ క్షేత్రం నుంచి రాపల్లికోట,}
\tlw{0}{205}{ఎన్కపల్లి మీదుగా పలిమెల అడవు}
\tlw{0}{205}{ల్లోకి ప్రవేశించిందని ఎఫ్ఆర్‌వో}
\tlj{రవి తెలిపారు. ఇదిలా ఉండగా మల్హార్ మండలం తాడిచెర్ల పరిధిలోని కాపురం అటవీ}
\tlj{ప్రాంతంలో మేత కోసం వెళ్లిన ఆవు మృత్యువాతపడడం, దాని మెడపై గాట్లు ఉన్నం}
\tlj{దున పెద్దపులే దాడి చేసినట్లు అనుమానిస్తున్నారు. కాగా ఆవుపై పులి దాడి చేసినట్లు}
\tle{నిర్ధారించలేమని సోమవారం సందర్శిస్తామని రేంజర్ రాజేశ్వరరావు తెలిపారు.}}
\hln[\tei\fsz{18}]{1112}{3065}{268}{అడవి జంతువు దాడిలో మృతి చెందిన ఆవు}

% ---------- palle prakruti vanam ----------
\bsq{1447}{2624}
\hln[\tem\fsz{36}]{1469}{2633}{313}{నాడు ఆహ్లాదం.. నేడు అధ్వానం}
\bsq{1828}{2616}
\hln[\te\bfseries\fsz{19}]{1851}{2622}{173}{కళ తప్పిన పల్లె ప్రకృతి వనం}
\bsq{1828}{2642}
\hln[\te\bfseries\fsz{19}]{1851}{2648}{202}{నీళ్లు లేక ఎండిపోతున్న మొక్కలు}
\bsq{1828}{2668}
\hln[\te\bfseries\fsz{19}]{1851}{2674}{175}{నిర్వహణ పట్టని అధికారులు}
\hln[\te\fsz{18}]{1484}{2944}{543}{వడ్లకొండలో పల్లె ప్రకృతి వనంలో వాకింగ్ ట్రాక్‌లో చెత్తాచెదారంతో దర్శనమిస్తున్న వనం}
\tcol[\tei\fsz{19}\color{nblue}]{1440}{2983}{636}{24.2}{%
\tlj{\tind మొన్నటివరకు పచ్చని చెట్లు, తీరొక్క పూలతో ఆహ్లాదం పంచిన పల్లె ప్రకృతి వనాలు ఇప్పుడు అధ్వానంగా కనిపిస్తు}
\tlj{న్నాయి. ‘తెలంగాణకు హరితహారం’లో భాగంగా గ్రామీణ ప్రాంతాల్లో పచ్చదనం పెంపొందించే లక్ష్యంతో గత బీఆర్ఎస్}
\tlj{సర్కారు ప్రతిష్ఠాత్మకంగా ఈ పల్లె పార్కులను ఏర్పాటు చేసింది. వివిధ రకాల పూలు, పండ్ల మొక్కల పెంచడమే గాక పిల్లలు,}
\tlj{పెద్దలు సాయంత్రం వేళ ఉల్లాసంగా గడిపేందుకు వాకింగ్ ట్రాక్‌లు, ఆడుకునేందుకు వీలుగా సౌకర్యాలు కల్పించడం}
\tlj{కేంద్రం దృష్టిని ఆకర్షించి దేశానికి ఆదర్శంగా నిలిచింది. ఇదిలా ఉంటే కాంగ్రెస్ సర్కారు పాలనలో అధికారులు వాటి నిర్వ}
\tlj{హణను గాలికొదిలేయడంతో మొక్కలు, చెట్లన్నీ ఎండిపోయి వనాలన్నీ కళ తప్పాయి. జనగామ మండలంలోని వడ్ల}
\tlj{కొండ, పెంబర్తిలో ఇలా నీళ్లు అందక చెట్లన్నీ ఎండిపోయి, ఆవరణలో చెత్తాచెదారం నిండిన దృశ్యాలే కనిపిస్తున్నాయి.}
\tlj{ఇక్కడే జిల్లా అంతటా ఇదే పరిస్థితి ఉన్నది. ప్రభుత్వం నిధులు విడుదల చేయకపోవడం, గ్రామాల్లో ప్రత్యేక అధికారుల}
\tlj{పాలన కారణంగా పర్యవేక్షణ కరువైంది. ఇప్పటికైనా సంబంధిత అధికారులు పట్టించుకొని పల్లె ప్రకృతి వనాలకు పూర్వ}
\tlwe{0}{400}{వైభవం తీసుకురావాలని గ్రామస్తులు కోరుతున్నారు.}}
\node[anchor=base east,inner sep=0pt] at (2031,3201) {\tei\fsz{19}\color{nred}– జనగామ రూరల్, ఫిబ్రవరి 23};
\end{tikzpicture}
\end{document}
